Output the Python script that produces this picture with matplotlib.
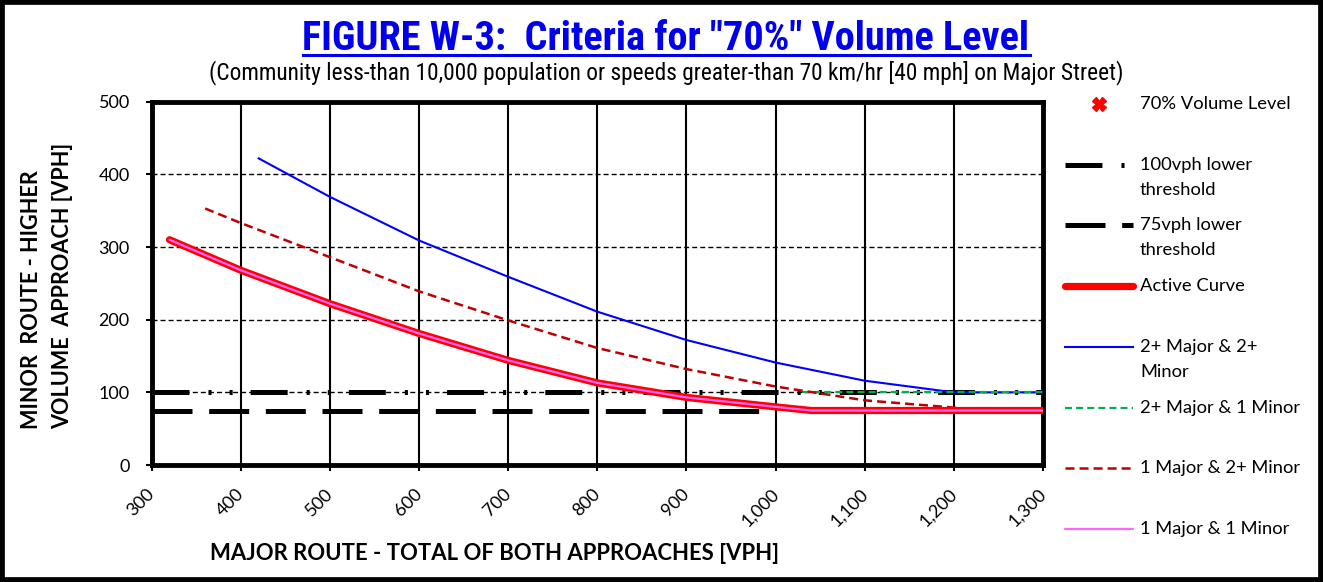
import matplotlib.pyplot as plt
import matplotlib.transforms as mtransforms
from matplotlib.lines import Line2D
from matplotlib.patches import Rectangle

plt.rcParams["font.family"] = ["Lato", "DejaVu Sans"]
plt.rcParams["lines.scale_dashes"] = False

W, H = 1323, 582

# curves: major route vph -> minor route vph
active_x = [320, 400, 500, 600, 700, 800, 900, 1000, 1040, 1300]
active_y = [310, 268, 222, 181, 144, 113, 93, 80, 75, 75]
one_one_x = [320, 400, 500, 600, 700, 800, 900, 1000, 1040, 1300]
one_one_y = [310, 268, 222, 181, 144, 113, 93, 80, 75, 75]
two_two_x = [420, 500, 600, 700, 800, 900, 1000, 1100, 1200, 1300]
two_two_y = [422, 369, 309, 259, 211, 172, 141, 116, 100, 100]
one_two_x = [360, 400, 500, 600, 700, 800, 900, 1000, 1100, 1200, 1230]
one_two_y = [353, 333, 286, 239, 199, 161, 132, 108, 89, 79, 76]
two_one_x = [1030, 1300]
two_one_y = [100, 100]
thr100_x = [300, 1300]
thr100_y = [100, 100]
thr75_x = [300, 990]
thr75_y = [75, 75]
level_x = []
level_y = []

x_ticks = list(range(300, 1301, 100))
x_ticklabels = [f"{v:,}" for v in x_ticks]
y_ticks = list(range(0, 501, 100))

legend_labels = [
    "70% Volume Level",
    "100vph lower\nthreshold",
    "75vph lower\nthreshold",
    "Active Curve",
    "2+ Major & 2+\nMinor",
    "2+ Major & 1 Minor",
    "1 Major & 2+ Minor",
    "1 Major & 1 Minor",
]

NARROW = ["Liberation Sans Narrow", "Roboto Condensed", "Liberation Sans", "DejaVu Sans"]


def fx(px):
    return px / W


def fy(py):
    return 1 - py / H


# line styles (dash lengths in points)
st_level = dict(color="#FF0000", marker="X", ms=10, ls="none")
st_thr100 = dict(color="black", lw=3.6, dashes=(26.6, 13.7, 2.2, 13, 2.2, 13),
                 dash_capstyle="butt")
st_thr75 = dict(color="black", lw=3.6, dashes=(28.8, 12), dash_capstyle="butt")
st_active = dict(color="#FF0000", lw=5.2, solid_capstyle="round")
st_two_two = dict(color="#0000FF", lw=1.5)
st_two_one = dict(color="#00B050", lw=1.6, dashes=(5, 3))
st_one_two = dict(color="#C00000", lw=1.8, dashes=(6.5, 3.6))
st_one_one = dict(color="#FF66FF", lw=1.6, solid_capstyle="round")

fig = plt.figure(figsize=(W / 100, H / 100), dpi=100)
ax = fig.add_axes([fx(151.7), fy(465), (1043 - 151.7) / W, (465 - 101.7) / H])

ax.plot(level_x, level_y, **st_level, zorder=9)
ax.plot(thr100_x, thr100_y, **st_thr100, zorder=3)
ax.plot(thr75_x, thr75_y, **st_thr75, zorder=3)
ax.plot(two_two_x, two_two_y, **st_two_two, zorder=4)
ax.plot(two_one_x, two_one_y, **st_two_one, zorder=5)
ax.plot(one_two_x, one_two_y, **st_one_two, zorder=6)
ax.plot(active_x, active_y, **st_active, zorder=7)
ax.plot(one_one_x, one_one_y, **st_one_one, zorder=8)

ax.set_xlim(300, 1300)
ax.set_ylim(0, 500)
ax.set_xticks(x_ticks)
ax.set_xticklabels(x_ticklabels, rotation=45, ha="right", va="baseline",
                   rotation_mode="anchor")
ax.set_yticks(y_ticks)
ax.set_axisbelow(True)
ax.xaxis.grid(True, color="black", lw=1.5)
ax.yaxis.grid(True, color="black", lw=1.0, linestyle=(0, (3.6, 2.2)))
for sp in ax.spines.values():
    sp.set_linewidth(3.5)
ax.tick_params(direction="out", length=4.3, width=1.5, labelsize=13)
ax.tick_params(axis="y", pad=11.5)
ax.tick_params(axis="x", pad=17)
shift = mtransforms.ScaledTranslation(4 / 100, 0, fig.dpi_scale_trans)
for lab in ax.get_xticklabels():
    lab.set_transform(lab.get_transform() + shift)

# titles, sized to the width they take in the original
title = fig.text(fx(666), fy(50), 'FIGURE W-3:  Criteria for "70%" Volume Level',
                 ha="center", va="baseline", fontsize=27, fontweight="bold",
                 color="#0000EE", family=NARROW, fontstretch="condensed")
subtitle = fig.text(fx(666), fy(79), "(Community less-than 10,000 population or speeds "
                    "greater-than 70 km/hr [40 mph] on Major Street)",
                    ha="center", va="baseline", fontsize=16, family=NARROW,
                    fontstretch="condensed")
fig.canvas.draw()
for txt, target in [(title, 728), (subtitle, 918)]:
    wpx = txt.get_window_extent().width
    txt.set_fontsize(txt.get_fontsize() * target / wpx)
fig.canvas.draw()
bb = title.get_window_extent()
fig.add_artist(Line2D([bb.x0 / W, bb.x1 / W], [fy(54.5), fy(54.5)],
                      color="#0000EE", lw=2.2, transform=fig.transFigure))

fig.text(fx(495), fy(553), "MAJOR ROUTE - TOTAL OF BOTH APPROACHES [VPH]",
         ha="center", va="center", fontsize=15.9, fontweight="bold")
fig.text(fx(47), fy(286), "MINOR  ROUTE - HIGHER\nVOLUME  APPROACH [VPH]",
         ha="center", va="center", rotation=90, fontsize=15.6,
         fontweight="bold", linespacing=1.6, multialignment="left")

# legend drawn entry by entry, one slot every ~60.7 px
styles = [st_level, st_thr100, st_thr75, st_active, st_two_two, st_two_one,
          st_one_two, st_one_one]
for i, (lab, st) in enumerate(zip(legend_labels, styles)):
    y0 = 104 + i * 60.7
    if st.get("marker"):
        fig.add_artist(Line2D([fx(1099)], [fy(y0)], transform=fig.transFigure, **st))
    else:
        fig.add_artist(Line2D([fx(1065), fx(1133)], [fy(y0), fy(y0)],
                              transform=fig.transFigure, **st))
    for k, line in enumerate(lab.split("\n")):
        fig.text(fx(1140), fy(y0 + k * 25), line, ha="left", va="center",
                 fontsize=13.2)

fig.add_artist(Rectangle((0, 0), 1, 1, transform=fig.transFigure, fill=False,
                         edgecolor="black", lw=7))

fig.savefig("out.png", dpi=100)
